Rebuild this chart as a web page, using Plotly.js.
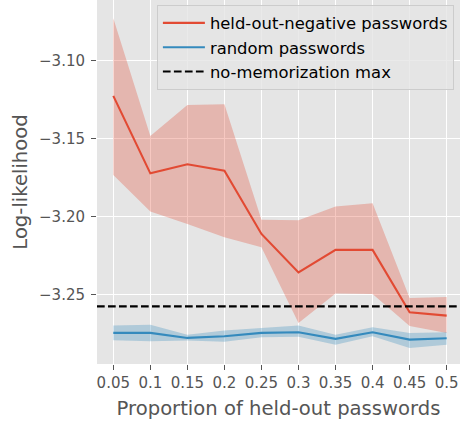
<!DOCTYPE html>
<html>
<head>
<meta charset="utf-8">
<script src="https://cdn.plot.ly/plotly-3.0.1.min.js"></script>
<style>html,body{margin:0;padding:0;background:#fff;}#chart{width:460px;height:423px;}</style>
</head>
<body>
<div id="chart"></div>
<script>
// Data
const proportions = [0.05, 0.1, 0.15, 0.2, 0.25, 0.3, 0.35, 0.4, 0.45, 0.5];
const xTickLabels = ["0.05", "0.1", "0.15", "0.2", "0.25", "0.3", "0.35", "0.4", "0.45", "0.5"];

const heldOutMean  = [-3.1227, -3.1723, -3.1665, -3.1706, -3.2111, -3.2358, -3.2213, -3.2213, -3.2613, -3.2634];
const heldOutUpper = [-3.0730, -3.1484, -3.1285, -3.1280, -3.2021, -3.2023, -3.1936, -3.1915, -3.2521, -3.2515];
const heldOutLower = [-3.1733, -3.1968, -3.2047, -3.2132, -3.2196, -3.2681, -3.2492, -3.2496, -3.2700, -3.2745];

const randomMean  = [-3.2745, -3.2745, -3.2777, -3.2766, -3.2745, -3.2741, -3.2783, -3.2741, -3.2788, -3.2779];
const randomUpper = [-3.2698, -3.2692, -3.2756, -3.2730, -3.2713, -3.2698, -3.2756, -3.2709, -3.2745, -3.2741];
const randomLower = [-3.2792, -3.2799, -3.2794, -3.2802, -3.2773, -3.2770, -3.2820, -3.2767, -3.2841, -3.2820];

const noMemorizationMax = -3.2575;

const yTickVals = [-3.10, -3.15, -3.20, -3.25];
const yTickLabels = ["\u22123.10", "\u22123.15", "\u22123.20", "\u22123.25"];

const RED = "#E24A33";
const BLUE = "#348ABD";
const FONT = "DejaVu Sans, sans-serif";

function band(upper, lower, fillcolor) {
  return [
    {x: proportions, y: upper, mode: "lines", line: {width: 0}, hoverinfo: "skip", showlegend: false, type: "scatter"},
    {x: proportions, y: lower, mode: "lines", line: {width: 0}, fill: "tonexty", fillcolor: fillcolor, hoverinfo: "skip", showlegend: false, type: "scatter"}
  ];
}

const traces = [
  ...band(heldOutUpper, heldOutLower, "rgba(226,74,51,0.3)"),
  {x: proportions, y: heldOutMean, mode: "lines", name: "held-out-negative passwords", legendrank: 1, line: {color: RED, width: 2.1}, type: "scatter"},
  ...band(randomUpper, randomLower, "rgba(52,138,189,0.3)"),
  {x: proportions, y: randomMean, mode: "lines", name: "random passwords", legendrank: 2, line: {color: BLUE, width: 2.1}, type: "scatter"}
];

const layout = {
  width: 460, height: 423,
  margin: {l: 97, r: 0, t: 0, b: 58.5},
  paper_bgcolor: "#FFFFFF",
  plot_bgcolor: "#E5E5E5",
  font: {family: FONT, color: "#555555"},
  xaxis: {
    range: [0.028, 0.518],
    tickvals: proportions, ticktext: xTickLabels,
    showgrid: true, gridcolor: "#FFFFFF", gridwidth: 1.1,
    zeroline: false, showline: false,
    ticks: "outside", ticklen: 5, tickwidth: 1.1, tickcolor: "#555555",
    tickfont: {family: FONT, size: 15, color: "#555555"},
    title: {text: "Proportion of held-out passwords", font: {family: FONT, size: 19.6, color: "#555555"}, standoff: 10}
  },
  yaxis: {
    range: [-3.2944, -3.0613],
    tickvals: yTickVals, ticktext: yTickLabels,
    showgrid: true, gridcolor: "#FFFFFF", gridwidth: 1.1,
    zeroline: false, showline: false,
    ticks: "outside", ticklen: 5, tickwidth: 1.1, tickcolor: "#555555",
    tickfont: {family: FONT, size: 15, color: "#555555"},
    ticklabelstandoff: 3,
    title: {text: "Log-likelihood", font: {family: FONT, size: 19.6, color: "#555555"}, standoff: 6}
  },
  shapes: [{
    type: "line", xref: "paper", x0: 0, x1: 1, yref: "y", y0: noMemorizationMax, y1: noMemorizationMax,
    line: {color: "#000000", width: 2.1, dash: "7.7px,3.3px"},
    showlegend: true, legendrank: 3, name: "no-memorization max"
  }],
  legend: {
    x: 0.165, y: 0.987, xanchor: "left", yanchor: "top",
    traceorder: "normal",
    bgcolor: "rgba(229,229,229,0.8)", bordercolor: "#CCCCCC", borderwidth: 1,
    font: {family: FONT, size: 16.4, color: "#000000"},
    itemwidth: 42, tracegroupgap: 0
  },
  showlegend: true
};

Plotly.newPlot("chart", traces, layout, {displayModeBar: false, staticPlot: true});
</script>
</body>
</html>
